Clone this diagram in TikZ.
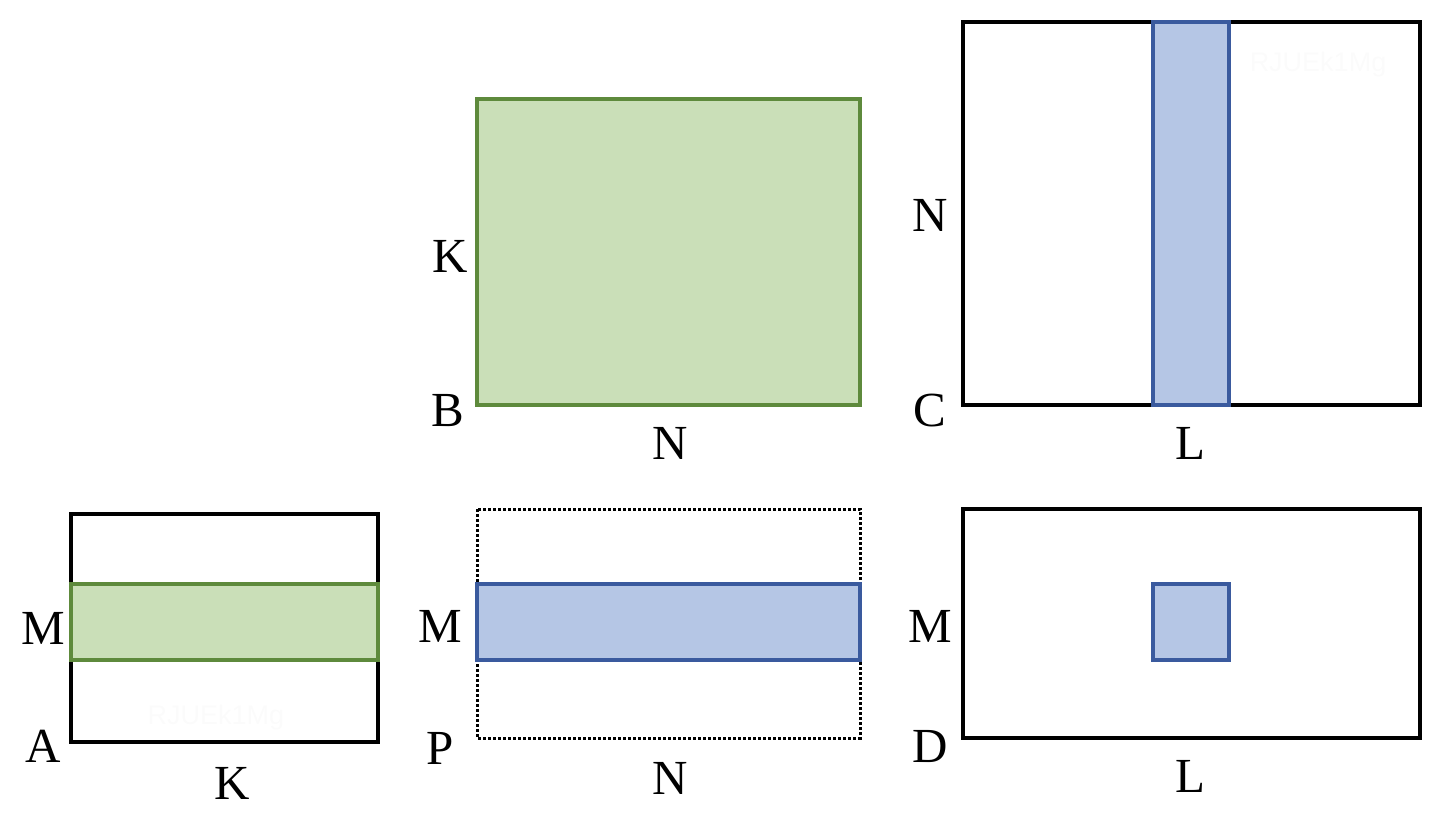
\documentclass[tikz,border=0pt]{standalone}
\usepackage{fontspec}
\setmainfont{Liberation Serif}
\newfontfamily\wmfont{Liberation Sans}
\definecolor{gfill}{HTML}{CADFB8}
\definecolor{gline}{HTML}{5E8A3C}
\definecolor{bfill}{HTML}{B5C6E5}
\definecolor{bline}{HTML}{3A5A9E}
\tikzset{
  blk/.style={draw=black, line width=3.2pt},
  dotbox/.style={draw=black, line width=3pt, dash pattern=on 3pt off 2pt},
  grn/.style={draw=gline, fill=gfill, line width=3.2pt},
  blu/.style={draw=bline, fill=bfill, line width=3.2pt},
  lbl/.style={font=\fontsize{49}{52}\selectfont, inner sep=0pt},
  wm/.style={font=\wmfont\fontsize{27}{29}\selectfont, text=black!1.5, inner sep=0pt}
}
\begin{document}
\begin{tikzpicture}[x=1pt,y=-1pt]
\useasboundingbox (0,0) rectangle (1440,815);
% B matrix
\draw[grn] (477,99) rectangle (860,405);
\node[lbl] (bK) at (450,256) {K};
\node[lbl] (bB) at (448,411) {B};
\node[lbl] (bN) at (670,443) {N};
% C matrix
\draw[blk] (963,22) rectangle (1420,405);
\draw[blu] (1153,22) rectangle (1229,405);
\node[wm] (wm1) at (1318,65) {RJUEk1Mg};
\node[lbl] (cN) at (930,215) {N};
\node[lbl] (cC) at (930,411) {C};
\node[lbl] (cL) at (1190,443) {L};
% A matrix
\draw[blk] (71,514) rectangle (378,742);
\draw[grn] (71,584) rectangle (378,660);
\node[wm] (wm2) at (216,718) {RJUEk1Mg};
\node[lbl] (aM) at (43,628) {M};
\node[lbl] (aA) at (43,746) {A};
\node[lbl] (aK) at (232,783) {K};
% P matrix
\draw[dotbox] (477,509) rectangle (860,738);
\draw[blu] (477,584) rectangle (860,660);
\node[lbl] (pM) at (440,626) {M};
\node[lbl] (pP) at (440,748) {P};
\node[lbl] (pN) at (670,778) {N};
% D matrix
\draw[blk] (963,509) rectangle (1420,738);
\draw[blu] (1153,584) rectangle (1229,660);
\node[lbl] (dM) at (930,626) {M};
\node[lbl] (dD) at (930,746) {D};
\node[lbl] (dL) at (1190,776) {L};
\end{tikzpicture}
\end{document}
